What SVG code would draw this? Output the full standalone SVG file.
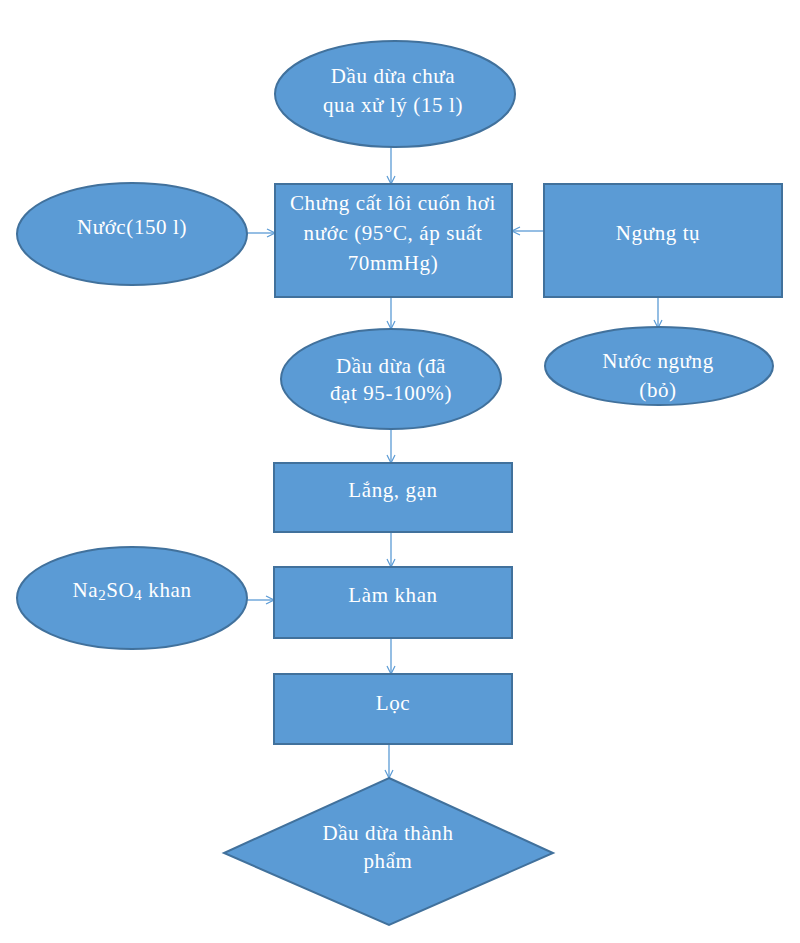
<svg xmlns="http://www.w3.org/2000/svg" width="800" height="943" viewBox="0 0 800 943">
<style>
.n{fill:#5B9BD5;stroke:#41719C;stroke-width:2}
.t{font-family:"Liberation Serif","Times New Roman",serif;font-size:21px;letter-spacing:0.6px;fill:#ffffff;text-anchor:middle}
.c{stroke:#5B9BD5;stroke-width:1.3;fill:none;marker-end:url(#ah)}
</style>
<defs>
<marker id="ah" markerWidth="10" markerHeight="10" refX="9" refY="5" orient="auto" markerUnits="userSpaceOnUse">
<path d="M1,1 L9,5 L1,9" fill="none" stroke="#5B9BD5" stroke-width="1.2"/>
</marker>
</defs>
<rect width="800" height="943" fill="#ffffff"/>
<g id="connectors">
<line class="c" x1="391" y1="147" x2="391" y2="184"/>
<line class="c" x1="247" y1="233" x2="275" y2="233"/>
<line class="c" x1="544" y1="231" x2="512" y2="231"/>
<line class="c" x1="658" y1="297" x2="658" y2="328"/>
<line class="c" x1="391" y1="297" x2="391" y2="329"/>
<line class="c" x1="391" y1="429" x2="391" y2="463"/>
<line class="c" x1="391" y1="532" x2="391" y2="567"/>
<line class="c" x1="247" y1="600" x2="274" y2="600"/>
<line class="c" x1="391" y1="638" x2="391" y2="674"/>
<line class="c" x1="389" y1="744" x2="389" y2="778"/>
</g>
<g id="n1"><ellipse class="n" cx="395" cy="94" rx="120" ry="53"/>
<text class="t" x="393" y="83">Dầu dừa chưa</text><text class="t" x="393" y="112">qua xử lý (15 l)</text></g>
<g id="n2"><rect class="n" x="275" y="184" width="237" height="113"/>
<text class="t" x="393" y="210">Chưng cất lôi cuốn hơi</text><text class="t" x="393" y="240">nước (95°C, áp suất</text><text class="t" x="393" y="270">70mmHg)</text></g>
<g id="n3"><ellipse class="n" cx="132" cy="234" rx="115" ry="51"/>
<text class="t" x="132" y="234">Nước(150 l)</text></g>
<g id="n4"><rect class="n" x="544" y="184" width="238" height="113"/>
<text class="t" x="658" y="240">Ngưng tụ</text></g>
<g id="n5"><ellipse class="n" cx="659" cy="366" rx="114" ry="39"/>
<text class="t" x="658" y="368">Nước ngưng</text><text class="t" x="658" y="397">(bỏ)</text></g>
<g id="n6"><ellipse class="n" cx="391" cy="379" rx="110" ry="50"/>
<text class="t" x="391" y="373">Dầu dừa (đã</text><text class="t" x="391" y="400">đạt 95-100%)</text></g>
<g id="n7"><rect class="n" x="274" y="463" width="238" height="69"/>
<text class="t" x="393" y="497">Lắng, gạn</text></g>
<g id="n8"><ellipse class="n" cx="132" cy="598" rx="115" ry="51"/>
<text class="t" x="132" y="597">Na<tspan font-size="15" dy="3">2</tspan><tspan dy="-3">SO</tspan><tspan font-size="15" dy="3">4</tspan><tspan dy="-3"> khan</tspan></text></g>
<g id="n9"><rect class="n" x="274" y="567" width="238" height="71"/>
<text class="t" x="393" y="602">Làm khan</text></g>
<g id="n10"><rect class="n" x="274" y="674" width="238" height="70"/>
<text class="t" x="393" y="710">Lọc</text></g>
<g id="n11"><polygon class="n" points="389,778 553,853 389,925 224,853"/>
<text class="t" x="388" y="840">Dầu dừa thành</text><text class="t" x="388" y="868">phẩm</text></g>
</svg>
